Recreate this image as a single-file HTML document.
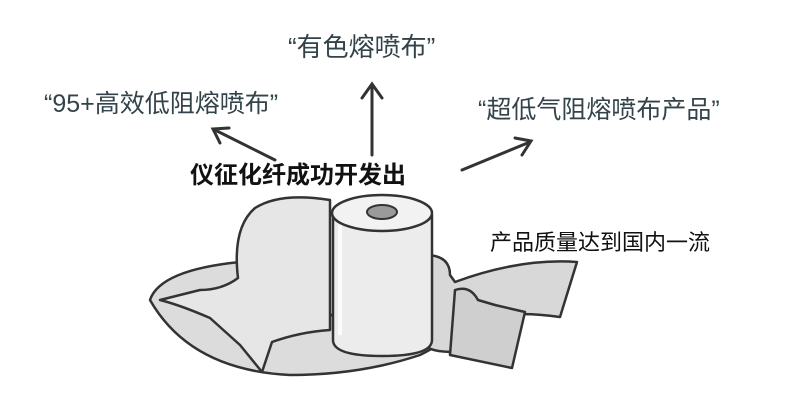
<!DOCTYPE html>
<html><head><meta charset="utf-8"><style>
html,body{margin:0;padding:0;background:#fff;width:800px;height:410px;overflow:hidden}
svg{display:block}
text{font-family:"Liberation Sans","Noto Sans CJK SC",sans-serif}
</style></head><body>
<svg width="800" height="410" viewBox="0 0 800 410">
<g fill="#33434a" font-size="26">
<text x="288" y="56">“有色熔喷布”</text>
<text x="44" y="112" font-size="25">“95+高效低阻熔喷布”</text>
<text x="478" y="118" font-size="25">“超低气阻熔喷布产品”</text>
</g>
<text x="190" y="183" font-size="24" fill="#111" font-weight="bold">仪征化纤成功开发出</text>
<text x="490" y="250" font-size="22" fill="#111">产品质量达到国内一流</text>
<g stroke="#333" stroke-width="3" fill="none" stroke-linecap="round">
<path d="M372 155 L372 86 M362 98 L372 84 L382 98"/>
<path d="M275 160 L215 130 M220 143 L213 129 L229 128"/>
<path d="M462 170 L530 142 M515 138 L531 141 L522 155"/>
</g>
<g stroke="#333" stroke-width="2.5" stroke-linejoin="round">
<path d="M150 300 Q160 270 240 262 L340 320 L440 320 Q470 330 420 355 Q360 375 290 375 Q190 370 150 300Z" fill="#dcdcdc"/>
<path d="M330 200 Q280 192 255 208 Q232 228 238 278 Q222 290 200 290 L160 300 Q180 305 210 318 L240 345 L262 372 L272 342 Q300 332 330 330Z" fill="#e6e6e6"/>
<path d="M425 255 Q450 255 450 275 L455 282 Q520 258 577 262 L560 317 Q510 310 485 320 L495 305 L470 330 L455 352 Q430 352 425 345Z" fill="#d8d8d8"/>
<path d="M455 290 Q470 285 478 300 L495 305 L525 312 L512 368 L450 355 Z" fill="#cfcfcf"/>
<path d="M333 215 L333 340 Q333 356 382 356 Q432 356 432 340 L432 215Z" fill="#ececec"/>
<ellipse cx="382" cy="213" rx="50" ry="18" fill="#f2f2f2"/>
<ellipse cx="382" cy="212" rx="15" ry="7" fill="#9a9a9a" stroke-width="2"/>
</g>
<path d="M340 225 L340 335" stroke="#fff" stroke-width="4" opacity=".8"/>
</svg>
</body></html>
